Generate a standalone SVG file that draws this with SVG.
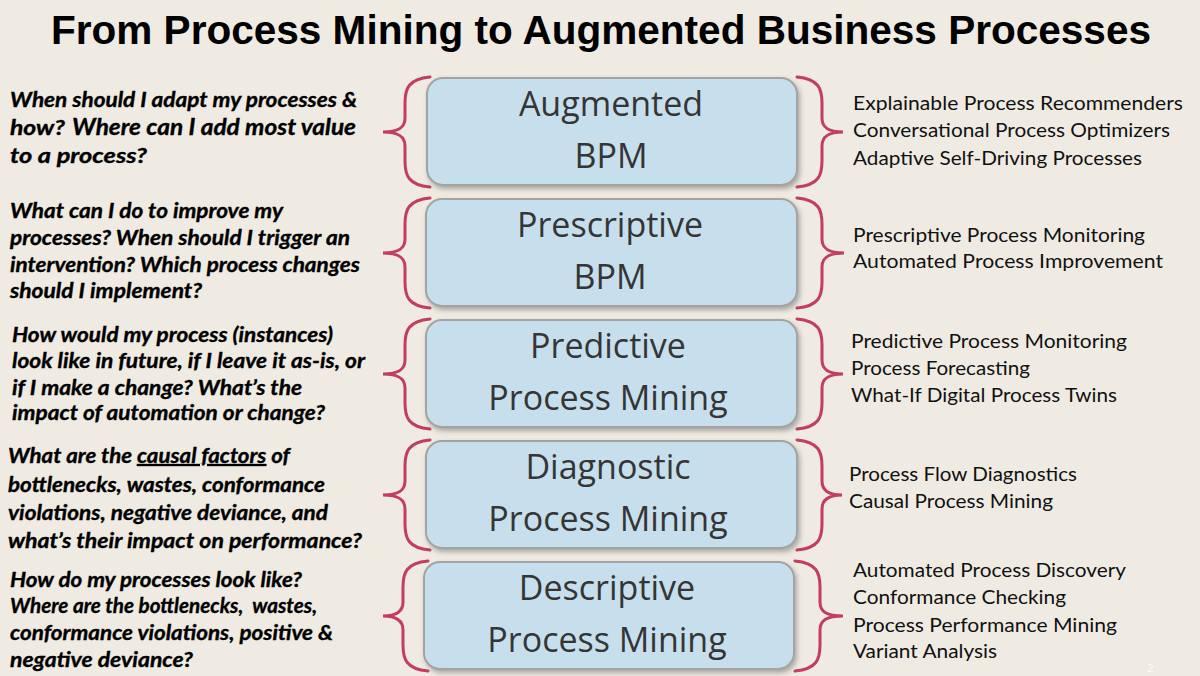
<svg xmlns="http://www.w3.org/2000/svg" width="1200" height="676" viewBox="0 0 1200 676">
<style>
.title{font-family:"Liberation Sans",Arial,sans-serif;font-weight:bold;font-size:40px;fill:#000}
.q{font-family:Lato,"Liberation Sans",sans-serif;font-weight:bold;font-style:italic;font-size:20px;fill:#000;stroke:#000;stroke-width:0.35}
.a{font-family:Lato,"Liberation Sans",sans-serif;font-size:19.5px;fill:#111}
.box{fill:#c7dfec;stroke:#a3a3a3;stroke-width:2}
.bt{font-family:"Open Sans","Noto Sans",sans-serif;font-size:34px;fill:#353535;text-anchor:middle}
.brace{fill:none;stroke:#c23d5e;stroke-width:3;stroke-linecap:round}
</style>
<defs>
<filter id="sh" x="-5%" y="-10%" width="115%" height="130%">
<feDropShadow dx="2" dy="3" stdDeviation="2.5" flood-color="#555" flood-opacity="0.45"/>
</filter>
</defs>
<rect width="1200" height="676" fill="#efebe3"/>
<text class="title" x="51" y="44" textLength="1100" lengthAdjust="spacingAndGlyphs">From Process Mining to Augmented Business Processes</text>

<g id="connectors">
<path class="brace" d="M430,77 C408,79 405,89 405,103 L405,118 C405,128 398,132 383,132 C398,132 405,136 405,146 L405,161 C405,175 408,185 430,187"/>
<path class="brace" d="M797,77 C819,79 822,89 822,103 L822,118 C822,128 829,132 843,132 C829,132 822,136 822,146 L822,161 C822,175 819,185 797,187"/>
<path class="brace" d="M430,198 C408,200 405,210 405,224 L405,239 C405,249 398,253 383,253 C398,253 405,257 405,267 L405,282 C405,296 408,306 430,308"/>
<path class="brace" d="M797,198 C819,200 822,210 822,224 L822,239 C822,249 829,253 844,253 C829,253 822,257 822,267 L822,282 C822,296 819,306 797,308"/>
<path class="brace" d="M430,319 C408,321 405,331 405,345 L405,360 C405,370 398,374 383,374 C398,374 405,378 405,388 L405,403 C405,417 408,427 430,429"/>
<path class="brace" d="M797,319 C819,321 822,331 822,345 L822,360 C822,370 829,374 843,374 C829,374 822,378 822,388 L822,403 C822,417 819,427 797,429"/>
<path class="brace" d="M430,440 C408,442 405,452 405,466 L405,481 C405,491 398,495 383,495 C398,495 405,499 405,509 L405,524 C405,538 408,548 430,550"/>
<path class="brace" d="M797,440 C819,442 822,452 822,466 L822,481 C822,491 829,495 842,495 C829,495 822,499 822,509 L822,524 C822,538 819,548 797,550"/>
<path class="brace" d="M428,561 C406,563 403,573 403,587 L403,602 C403,612 396,616 383,616 C396,616 403,620 403,630 L403,645 C403,659 406,669 428,671"/>
<path class="brace" d="M795,561 C817,563 820,573 820,587 L820,602 C820,612 827,616 843,616 C827,616 820,620 820,630 L820,645 C820,659 817,669 795,671"/>
</g>

<g id="node-augmented">
<rect class="box" x="427" y="78" width="370" height="107" rx="16" filter="url(#sh)"/>
<text class="bt" x="611" y="116">Augmented</text>
<text class="bt" x="611" y="168">BPM</text>
</g>
<g id="node-prescriptive">
<rect class="box" x="426" y="199" width="371" height="107" rx="16" filter="url(#sh)"/>
<text class="bt" x="610" y="237">Prescriptive</text>
<text class="bt" x="610" y="289">BPM</text>
</g>
<g id="node-predictive">
<rect class="box" x="426" y="320" width="371" height="107" rx="16" filter="url(#sh)"/>
<text class="bt" x="608" y="358">Predictive</text>
<text class="bt" x="608" y="410">Process Mining</text>
</g>
<g id="node-diagnostic">
<rect class="box" x="426" y="441" width="371" height="107" rx="16" filter="url(#sh)"/>
<text class="bt" x="608" y="479">Diagnostic</text>
<text class="bt" x="608" y="531">Process Mining</text>
</g>
<g id="node-descriptive">
<rect class="box" x="424" y="562" width="370" height="107" rx="16" filter="url(#sh)"/>
<text class="bt" x="607" y="600">Descriptive</text>
<text class="bt" x="607" y="652">Process Mining</text>
</g>

<g id="questions">
<text class="q" x="10" y="107" textLength="347" lengthAdjust="spacingAndGlyphs">When should I adapt my processes &amp;</text>
<text class="q" x="10" y="135" textLength="55" lengthAdjust="spacingAndGlyphs">how?</text>
<text class="q" x="72" y="135" style="font-size:22px" textLength="284" lengthAdjust="spacingAndGlyphs">Where can I add most value</text>
<text class="q" x="10" y="163" textLength="137" lengthAdjust="spacingAndGlyphs">to a process?</text>

<text class="q" x="10" y="218" textLength="273" lengthAdjust="spacingAndGlyphs">What can I do to improve my</text>
<text class="q" x="10" y="245" textLength="340" lengthAdjust="spacingAndGlyphs">processes? When should I trigger an</text>
<text class="q" x="10" y="272" textLength="350" lengthAdjust="spacingAndGlyphs">intervention? Which process changes</text>
<text class="q" x="10" y="298" textLength="192" lengthAdjust="spacingAndGlyphs">should I implement?</text>

<text class="q" x="12" y="342" textLength="321" lengthAdjust="spacingAndGlyphs">How would my process (instances)</text>
<text class="q" x="12" y="368" textLength="353" lengthAdjust="spacingAndGlyphs">look like in future, if I leave it as-is, or</text>
<text class="q" x="12" y="395" textLength="290" lengthAdjust="spacingAndGlyphs">if I make a change? What’s the</text>
<text class="q" x="12" y="420" textLength="313" lengthAdjust="spacingAndGlyphs">impact of automation or change?</text>

<text class="q" x="8" y="463" textLength="282" lengthAdjust="spacingAndGlyphs">What are the <tspan text-decoration="underline">causal factors</tspan> of</text>
<text class="q" x="8" y="492" textLength="317" lengthAdjust="spacingAndGlyphs">bottlenecks, wastes, conformance</text>
<text class="q" x="8" y="520" textLength="320" lengthAdjust="spacingAndGlyphs">violations, negative deviance, and</text>
<text class="q" x="8" y="548" textLength="354" lengthAdjust="spacingAndGlyphs">what’s their impact on performance?</text>

<text class="q" x="10" y="587" textLength="292" lengthAdjust="spacingAndGlyphs">How do my processes look like?</text>
<text class="q" x="10" y="613" textLength="307" lengthAdjust="spacingAndGlyphs">Where are the bottlenecks,&#160; wastes,</text>
<text class="q" x="10" y="640" textLength="323" lengthAdjust="spacingAndGlyphs">conformance violations, positive &amp;</text>
<text class="q" x="10" y="667" textLength="183" lengthAdjust="spacingAndGlyphs">negative deviance?</text>
</g>

<g id="techniques">
<text class="a" x="853" y="110" textLength="330" lengthAdjust="spacingAndGlyphs">Explainable Process Recommenders</text>
<text class="a" x="853" y="137" textLength="317" lengthAdjust="spacingAndGlyphs">Conversational Process Optimizers</text>
<text class="a" x="853" y="165" textLength="289" lengthAdjust="spacingAndGlyphs">Adaptive Self-Driving Processes</text>

<text class="a" x="853" y="242" textLength="292" lengthAdjust="spacingAndGlyphs">Prescriptive Process Monitoring</text>
<text class="a" x="853" y="268" textLength="310" lengthAdjust="spacingAndGlyphs">Automated Process Improvement</text>

<text class="a" x="851" y="348" textLength="276" lengthAdjust="spacingAndGlyphs">Predictive Process Monitoring</text>
<text class="a" x="851" y="375" textLength="179" lengthAdjust="spacingAndGlyphs">Process Forecasting</text>
<text class="a" x="851" y="402" textLength="266" lengthAdjust="spacingAndGlyphs">What-If Digital Process Twins</text>

<text class="a" x="849" y="481" textLength="228" lengthAdjust="spacingAndGlyphs">Process Flow Diagnostics</text>
<text class="a" x="849" y="508" textLength="204" lengthAdjust="spacingAndGlyphs">Causal Process Mining</text>

<text class="a" x="853" y="577" textLength="273" lengthAdjust="spacingAndGlyphs">Automated Process Discovery</text>
<text class="a" x="853" y="604" textLength="213" lengthAdjust="spacingAndGlyphs">Conformance Checking</text>
<text class="a" x="853" y="632" textLength="264" lengthAdjust="spacingAndGlyphs">Process Performance Mining</text>
<text class="a" x="853" y="658" textLength="144" lengthAdjust="spacingAndGlyphs">Variant Analysis</text>
</g>
<text x="1147" y="672" font-family="Lato,sans-serif" font-size="11" fill="#fbfaf7">2</text>
</svg>
